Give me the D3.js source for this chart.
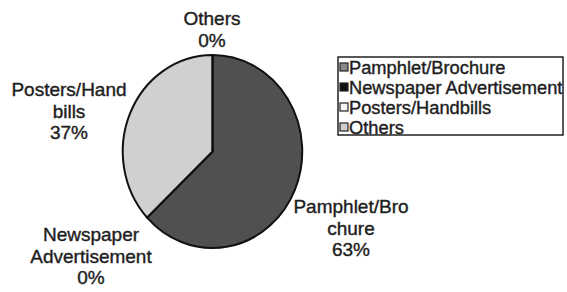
<!DOCTYPE html>
<html>
<head>
<meta charset="utf-8">
<script src="https://cdn.jsdelivr.net/npm/d3@7"></script>
<style>
  body { margin: 0; background: #fff; }
  text { font-family: "Liberation Sans", Arial, sans-serif; fill: #1e1e1e; stroke: #1e1e1e; stroke-width: 0.4px; }
</style>
</head>
<body>
<div id="chart"></div>
<script>
// data
const categories = ["Pamphlet/Brochure", "Newspaper Advertisement", "Posters/Hand bills", "Others"];
const shares = [63, 0, 37, 0];
const sliceLabels = [["Pamphlet/Bro", "chure"], ["Newspaper", "Advertisement"], ["Posters/Hand", "bills"], ["Others"]];
const legendLabels = ["Pamphlet/Brochure", "Newspaper Advertisement", "Posters/Handbills", "Others"];

// look
const colors = ["#505050", "#111111", "#d0d0d0", "#dadada"];
const swatchColors = ["#8a8a8a", "#111111", "#f4f4f4", "#d0d0d0"];
// where each data label sits (centre of text block, first baseline)
const labelPos = [[351, 213], [91, 241], [69, 96], [212, 25]];

const W = 567, H = 292;
const cx = 212.5, cy = 151.5, r = 96.5;

const svg = d3.select("#chart").append("svg")
    .attr("width", W)
    .attr("height", H);

const data = categories.map((c, i) => ({ cat: c, value: shares[i], i }));

const pie = d3.pie()
    .value(d => d.value)
    .sort(null);

const arc = d3.arc().innerRadius(0).outerRadius(r);

// scan is a bit squashed horizontally
const g = svg.append("g")
    .attr("transform", `translate(${cx},${cy}) scale(0.93,1)`);

g.selectAll("path")
    .data(pie(data))
    .enter()
    .append("path")
    .attr("d", arc)
    .attr("fill", d => colors[d.data.i])
    .attr("stroke", "#111")
    .attr("stroke-width", 2)
    .attr("vector-effect", "non-scaling-stroke");

// data labels
const lab = svg.append("g").attr("font-size", 19).attr("text-anchor", "middle");
data.forEach((d, i) => {
    const lines = sliceLabels[i].concat([d.value + "%"]);
    const t = lab.append("text")
        .attr("x", labelPos[i][0])
        .attr("y", labelPos[i][1]);
    lines.forEach((s, k) => {
        t.append("tspan")
            .attr("x", labelPos[i][0])
            .attr("dy", k === 0 ? 0 : 21.5)
            .text(s);
    });
});

// legend
const leg = svg.append("g").attr("transform", "translate(338,57)");
leg.append("rect")
    .attr("width", 225)
    .attr("height", 78)
    .attr("fill", "#fff")
    .attr("stroke", "#222")
    .attr("stroke-width", 1.5);

const rows = leg.selectAll("g.row")
    .data(legendLabels)
    .enter()
    .append("g")
    .attr("class", "row")
    .attr("transform", (d, i) => `translate(2,${10 + i * 20})`);

rows.append("rect")
    .attr("x", 0)
    .attr("y", -4)
    .attr("width", 8)
    .attr("height", 8)
    .attr("fill", (d, i) => swatchColors[i])
    .attr("stroke", "#222")
    .attr("stroke-width", 1.2);

rows.append("text")
    .attr("x", 9)
    .attr("y", 6.5)
    .attr("font-size", 18.3)
    .text(d => d);
</script>
</body>
</html>
